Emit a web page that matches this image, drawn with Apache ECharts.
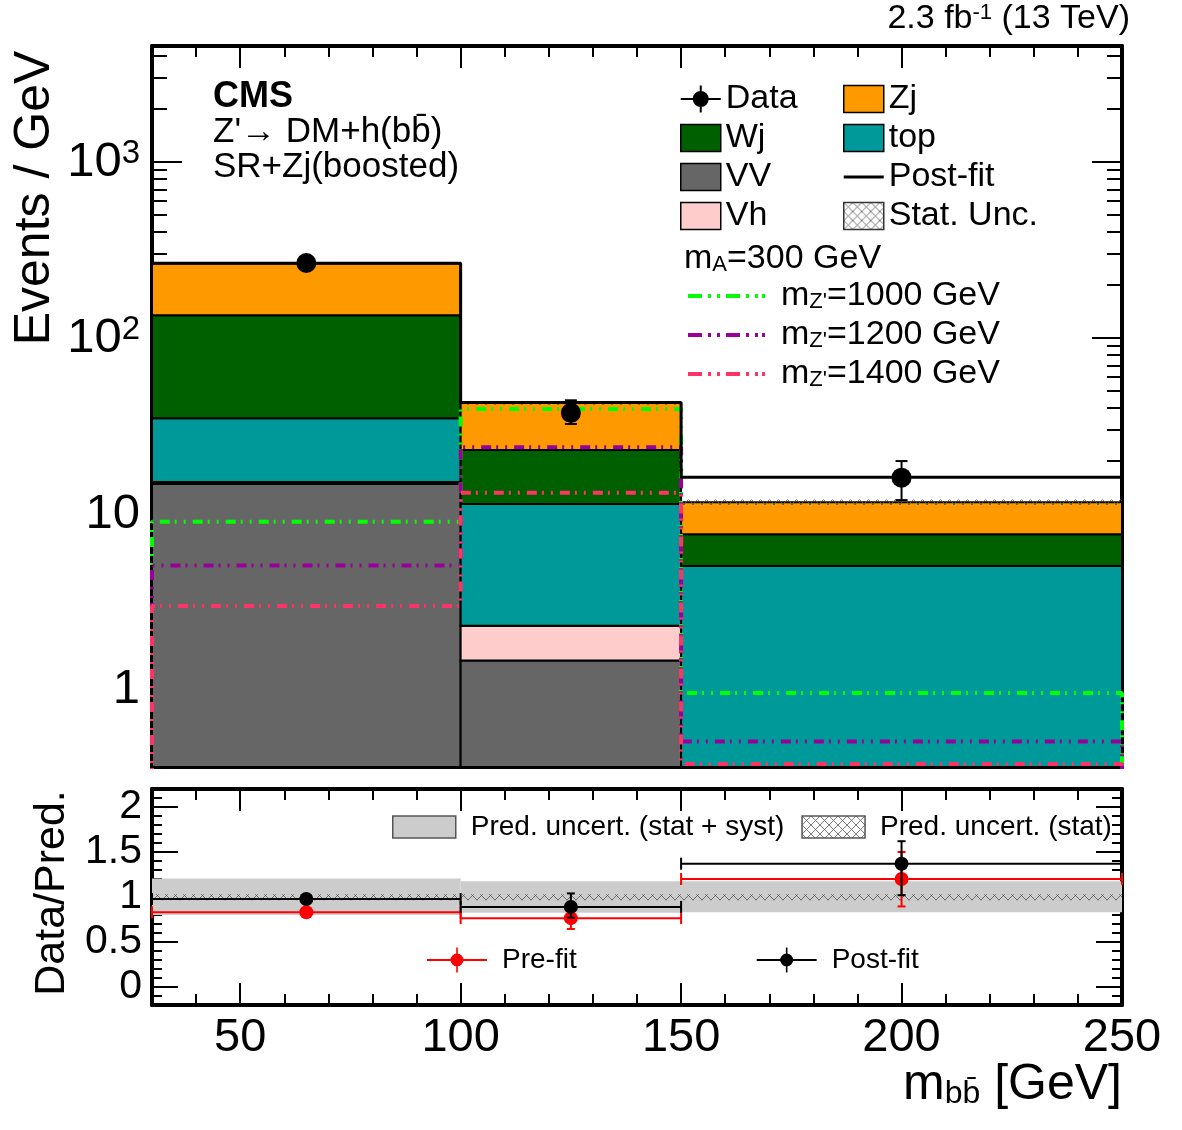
<!DOCTYPE html>
<html>
<head>
<meta charset="utf-8">
<title>m_bb SR+Zj boosted</title>
<script src="https://cdn.jsdelivr.net/npm/echarts@6/dist/echarts.min.js"></script>
<style>
  html, body { margin: 0; padding: 0; background: #fff; }
  #chart { width: 1182px; height: 1130px; }
</style>
</head>
<body>
<div id="chart"></div>
<script>
// bins of m_bb [GeV]
const binEdges = [30, 100, 150, 250];
const binCenters = [65, 125, 200];

// stacked backgrounds, events / GeV (bottom -> top)
const vvBkg = [14.8, 1.47, 0.2];
const vhBkg = [0.4, 0.85, 0.05];
const topBkg = [19.8, 9.08, 4.82];
const wjBkg = [100, 11.7, 2.6];
const zjBkg = [130, 19.7, 4.0];
const statUncRel = [0.012, 0.025, 0.035];
const postFit = [266, 43, 16.2];

// data
const dataVals = [267, 37.6, 16.1];
const dataLo = [250, 32.5, 12.0];
const dataHi = [285, 44.3, 20.0];

// signals, m_A = 300 GeV
const sigMz1000 = [9.05, 39.5, 0.96];
const sigMz1200 = [5.1, 24, 0.51];
const sigMz1400 = [3.0, 13.2, 0.38];

// ratio panel
const bandLo = [0.80, 0.825, 0.83];
const bandHi = [1.205, 1.175, 1.175];
const statLo = [0.965, 0.965, 0.965];
const statHi = [1.03, 1.03, 1.03];
const postRatio = [0.978, 0.89, 1.37];
const postRatioLo = [0.95, 0.77, 1.02];
const postRatioHi = [1.005, 1.04, 1.62];
const preRatio = [0.83, 0.765, 1.20];
const preRatioLo = [0.80, 0.645, 0.895];
const preRatioHi = [0.86, 0.885, 1.50];

// tick labels
const xLabels = [50, 100, 150, 200, 250];
const xMajor = [50, 100, 150, 200];
const yLogLabels = [1, 10, 100, 1000];
const ratioLabels = [0, 0.5, 1, 1.5, 2];

const FONT = 'Liberation Sans, Arial, Helvetica, DejaVu Sans, sans-serif';
const Y_MIN = 0.365, Y_MAX = 4570;

// log minor ticks 2..9 x decade
const yLogMinor = [];
[0.1, 1, 10, 100, 1000].forEach(d => {
  for (let k = 2; k <= 9; k++) {
    const v = k * d;
    if (v > Y_MIN && v < Y_MAX) yLogMinor.push(v);
  }
});

// hatch pattern for stat. uncertainties
const hatch = document.createElement('canvas');
hatch.width = 9; hatch.height = 9;
(function () {
  const c = hatch.getContext('2d');
  c.strokeStyle = '#555';
  c.lineWidth = 0.8;
  c.beginPath();
  c.moveTo(0, 0); c.lineTo(9, 9);
  c.moveTo(9, 0); c.lineTo(0, 9);
  c.stroke();
})();
const hatchFill = { image: hatch, repeat: 'repeat' };

var chart = echarts.init(document.getElementById('chart'));

function histRect(fill, stroke, lw, clampLow) {
  return function (params, api) {
    let lo = api.value(2), hi = api.value(3);
    if (clampLow != null) {
      if (hi <= clampLow) return null;
      lo = Math.max(lo, clampLow / 10);
    }
    const p0 = api.coord([api.value(0), hi]);
    const p1 = api.coord([api.value(1), lo]);
    const cs = params.coordSys;
    const shape = echarts.graphic.clipRectByRect(
      { x: p0[0], y: p0[1], width: p1[0] - p0[0], height: p1[1] - p0[1] },
      { x: cs.x, y: cs.y, width: cs.width, height: cs.height }
    );
    if (!shape) return null;
    return {
      type: 'rect', shape: shape,
      style: { fill: fill, stroke: stroke || null, lineWidth: lw || 0 }
    };
  };
}

function pointItem(color, r, xbar, capW) {
  return function (params, api) {
    const xc = api.value(0), y = api.value(1);
    const c = api.coord([xc, y]);
    const lo = api.coord([xc, api.value(2)]);
    const hi = api.coord([xc, api.value(3)]);
    const st = { stroke: color, lineWidth: 2 };
    const kids = [];
    if (xbar) {
      const a = api.coord([api.value(4), y]);
      const b = api.coord([api.value(5), y]);
      kids.push({ type: 'line', shape: { x1: a[0], y1: a[1], x2: b[0], y2: b[1] }, style: st });
      kids.push({ type: 'line', shape: { x1: a[0], y1: a[1] - 6, x2: a[0], y2: a[1] + 6 }, style: st });
      kids.push({ type: 'line', shape: { x1: b[0], y1: b[1] - 6, x2: b[0], y2: b[1] + 6 }, style: st });
    }
    kids.push({ type: 'line', shape: { x1: lo[0], y1: lo[1], x2: hi[0], y2: hi[1] }, style: st });
    kids.push({ type: 'line', shape: { x1: lo[0] - capW, y1: lo[1], x2: lo[0] + capW, y2: lo[1] }, style: st });
    kids.push({ type: 'line', shape: { x1: hi[0] - capW, y1: hi[1], x2: hi[0] + capW, y2: hi[1] }, style: st });
    kids.push({ type: 'circle', shape: { cx: c[0], cy: c[1], r: r }, style: { fill: color } });
    return { type: 'group', children: kids };
  };
}

function stepPoints(vals, floor) {
  const pts = [[binEdges[0], floor]];
  vals.forEach((v, i) => {
    pts.push([binEdges[i], v]);
    pts.push([binEdges[i + 1], v]);
  });
  if (floor != null) pts.push([binEdges[binEdges.length - 1], floor]);
  else pts.shift();
  return pts;
}

// stacked background rects
const stackDefs = [
  { name: 'VV', vals: vvBkg, color: '#666666' },
  { name: 'Vh', vals: vhBkg, color: '#ffcccc' },
  { name: 'top', vals: topBkg, color: '#009999' },
  { name: 'Wj', vals: wjBkg, color: '#006000' },
  { name: 'Zj', vals: zjBkg, color: '#ff9900' }
];
const cum = [0, 0, 0];
const stackSeries = stackDefs.map(d => {
  const rows = d.vals.map((v, i) => {
    const row = [binEdges[i], binEdges[i + 1], cum[i], cum[i] + v];
    cum[i] += v;
    return row;
  });
  return {
    name: d.name, type: 'custom', xAxisIndex: 0, yAxisIndex: 0,
    renderItem: histRect(d.color, '#000', 2, Y_MIN),
    itemStyle: { color: d.color },
    encode: { x: [0, 1], y: [2, 3] },
    data: rows, z: 2
  };
});

const statRows = cum.map((t, i) => [binEdges[i], binEdges[i + 1], t * (1 - statUncRel[i]), t * (1 + statUncRel[i])]);

const dash = [10, 5, 2, 7, 2, 7];
function sigSeries(name, vals, color) {
  return {
    name: name, type: 'line', xAxisIndex: 0, yAxisIndex: 0,
    data: stepPoints(vals, Y_MIN / 10), symbol: 'none', z: 4,
    itemStyle: { color: color },
    lineStyle: { color: color, width: 4, type: dash }
  };
}

const sigNames = { 'mZ1000': '1000', 'mZ1200': '1200', 'mZ1400': '1400' };

function xAxisDef(grid, pos, major, labels) {
  return {
    type: 'value', gridIndex: grid, position: pos, min: 30, max: 250, interval: 10,
    axisLine: { show: !major, onZero: false, lineStyle: { color: '#000', width: 4 } },
    axisTick: major
      ? { inside: true, length: 22, customValues: xMajor, lineStyle: { color: '#000', width: 2 } }
      : { inside: true, length: 11, lineStyle: { color: '#000', width: 2 } },
    axisLabel: labels
      ? { customValues: xLabels, fontSize: 47, color: '#000', fontFamily: FONT, margin: 10 }
      : { show: false },
    splitLine: { show: false }
  };
}

function logAxisDef(pos, major, labels) {
  return {
    type: 'log', logBase: 10, gridIndex: 0, position: pos, min: Y_MIN, max: Y_MAX,
    axisLine: { show: !major, onZero: false, lineStyle: { color: '#000', width: 4 } },
    axisTick: { inside: true, length: major ? 30 : 15, customValues: major ? yLogLabels : yLogMinor,
      lineStyle: { color: '#000', width: 2 } },
    axisLabel: labels ? {
      customValues: yLogLabels, fontSize: 49, color: '#000', fontFamily: FONT, margin: 12,
      formatter: v => {
        const e = Math.round(Math.log10(v));
        if (e === 0) return '1';
        if (e === 1) return '10';
        return '10{sup|' + e + '}';
      },
      rich: { sup: { fontSize: 33, verticalAlign: 'top', fontFamily: FONT, color: '#000' } }
    } : { show: false },
    splitLine: { show: false }
  };
}

function ratioAxisDef(pos, major, labels) {
  return {
    type: 'value', gridIndex: 1, position: pos, min: -0.2, max: 2.2, interval: 0.1,
    axisLine: { show: !major, onZero: false, lineStyle: { color: '#000', width: 4 } },
    axisTick: major
      ? { inside: true, length: 26, customValues: ratioLabels, lineStyle: { color: '#000', width: 2 } }
      : { inside: true, length: 10, lineStyle: { color: '#000', width: 2 } },
    axisLabel: labels
      ? { customValues: ratioLabels, fontSize: 41, color: '#000', fontFamily: FONT, margin: 10,
          formatter: v => String(v) }
      : { show: false },
    splitLine: { show: false }
  };
}

const dataIcon = 'path://M0,12.5h40v2h-40zM19,0h2v27h-2zM12,13.5a8 8 0 1 1 16 0a8 8 0 1 1 -16 0z';
const ratioIcon = 'path://M0,11.5h60v2h-60zM29.2,0h1.6v25h-1.6zM23.5,12.5a6.5 6.5 0 1 1 13 0a6.5 6.5 0 1 1 -13 0z';
const lineIcon = 'path://M0,0h0.01v0.01h-0.01zM0,12h40v3h-40zM39.99,26.99h0.01v0.01h-0.01z';
const sigIcon = 'path://M0,0h14v4h-14zM20,0h3v4h-3zM29,0h3v4h-3zM38,0h14v4h-14zM58,0h3v4h-3zM67,0h3v4h-3zM74,0h3v4h-3z';

const legText = { fontSize: 34, color: '#000', fontFamily: FONT };
const ratioLegText = { fontSize: 28, color: '#000', fontFamily: FONT, padding: [0, 0, 0, 10] };
const boxStyle = c => ({ color: c, borderColor: '#000', borderWidth: 1.5 });

const option = {
  animation: false,
  backgroundColor: '#fff',
  grid: [
    { left: 152, top: 46, width: 970, height: 721 },
    { left: 152, top: 789, width: 970, height: 216 }
  ],
  xAxis: [
    xAxisDef(0, 'bottom', false, false),
    xAxisDef(0, 'top', false, false),
    xAxisDef(0, 'bottom', true, false),
    xAxisDef(0, 'top', true, false),
    xAxisDef(1, 'bottom', false, true),
    xAxisDef(1, 'top', false, false),
    xAxisDef(1, 'bottom', true, false),
    xAxisDef(1, 'top', true, false)
  ],
  yAxis: [
    logAxisDef('left', false, true),
    logAxisDef('right', false, false),
    logAxisDef('left', true, false),
    logAxisDef('right', true, false),
    ratioAxisDef('left', false, true),
    ratioAxisDef('right', false, false),
    ratioAxisDef('left', true, false),
    ratioAxisDef('right', true, false)
  ],
  legend: [
    {
      left: 680, top: 82, orient: 'vertical', itemWidth: 40, itemHeight: 27, itemGap: 5,
      padding: 0, selectedMode: false, textStyle: legText,
      data: [
        { name: 'Data', icon: dataIcon, itemStyle: { color: '#000', borderWidth: 0 } },
        { name: 'Wj', icon: 'rect', itemStyle: boxStyle('#006000') },
        { name: 'VV', icon: 'rect', itemStyle: boxStyle('#666666') },
        { name: 'Vh', icon: 'rect', itemStyle: boxStyle('#ffcccc') }
      ]
    },
    {
      left: 843, top: 82, orient: 'vertical', itemWidth: 40, itemHeight: 27, itemGap: 5,
      padding: 0, selectedMode: false, textStyle: legText,
      data: [
        { name: 'Zj', icon: 'rect', itemStyle: boxStyle('#ff9900') },
        { name: 'top', icon: 'rect', itemStyle: boxStyle('#009999') },
        { name: 'Post-fit', icon: lineIcon, itemStyle: { color: '#000', borderWidth: 0 } },
        { name: 'Stat. Unc.', icon: 'rect', itemStyle: { color: hatchFill, borderColor: '#333', borderWidth: 1.5 } }
      ]
    },
    {
      left: 688, top: 279, orient: 'vertical', itemWidth: 77, itemHeight: 4, itemGap: 5,
      padding: 0, selectedMode: false,
      textStyle: Object.assign({ padding: [0, 0, 0, 11], rich: {
        b: { fontSize: 34, fontFamily: FONT, color: '#000' },
        s: { fontSize: 22, fontFamily: FONT, color: '#000', verticalAlign: 'bottom' }
      } }, legText),
      formatter: n => '{b|m}{s|Z\'}{b|=' + sigNames[n] + ' GeV}',
      data: [
        { name: 'mZ1000', icon: sigIcon, itemStyle: { color: '#00ff00', borderWidth: 0 } },
        { name: 'mZ1200', icon: sigIcon, itemStyle: { color: '#990099', borderWidth: 0 } },
        { name: 'mZ1400', icon: sigIcon, itemStyle: { color: '#ff3366', borderWidth: 0 } }
      ]
    },
    {
      left: 392, top: 813, orient: 'horizontal', itemWidth: 63, itemHeight: 22, itemGap: 17,
      padding: 0, selectedMode: false, textStyle: ratioLegText,
      data: [
        { name: 'Pred. uncert. (stat + syst)', icon: 'rect', itemStyle: { color: '#cccccc', borderColor: '#555', borderWidth: 1.5 } },
        { name: 'Pred. uncert. (stat)', icon: 'rect', itemStyle: { color: hatchFill, borderColor: '#555', borderWidth: 1.5 } }
      ]
    },
    {
      left: 427, top: 946, orient: 'horizontal', itemWidth: 60, itemHeight: 25, itemGap: 180,
      padding: 0, selectedMode: false, textStyle: ratioLegText,
      data: [
        { name: 'Pre-fit', icon: ratioIcon, itemStyle: { color: '#ff0000', borderWidth: 0 } },
        { name: 'Post-fit', icon: ratioIcon, itemStyle: { color: '#000', borderWidth: 0 } }
      ]
    }
  ],
  graphic: [
    { type: 'text', right: 52, top: 2, style: {
        text: '{a|2.3 fb}{s|-1}{a| (13 TeV)}', fill: '#000',
        rich: { a: { fontSize: 34, fontFamily: FONT }, s: { fontSize: 22, fontFamily: FONT, verticalAlign: 'top' } } } },
    { type: 'text', x: 213, y: 79, style: { text: 'CMS', font: 'bold 36px ' + FONT, fill: '#000' } },
    { type: 'text', x: 213, y: 115, style: { text: 'Z\'\u2192 DM+h(bb\u0304)', font: '35px ' + FONT, fill: '#000' } },
    { type: 'text', x: 213, y: 150, style: { text: 'SR+Zj(boosted)', font: '35px ' + FONT, fill: '#000' } },
    { type: 'text', x: 684, y: 242, style: {
        text: '{a|m}{s|A}{a|=300 GeV}', fill: '#000',
        rich: { a: { fontSize: 34, fontFamily: FONT }, s: { fontSize: 22, fontFamily: FONT, verticalAlign: 'bottom' } } } },
    { type: 'text', x: 35, y: 198, rotation: Math.PI / 2, style: {
        text: 'Events / GeV', font: '50px ' + FONT, fill: '#000', align: 'center', verticalAlign: 'middle' } },
    { type: 'text', x: 52, y: 893, rotation: Math.PI / 2, style: {
        text: 'Data/Pred.', font: '43px ' + FONT, fill: '#000', align: 'center', verticalAlign: 'middle' } },
    { type: 'text', right: 60, top: 1060, style: {
        text: '{a|m}{s|bb\u0304}{a| [GeV]}', fill: '#000',
        rich: { a: { fontSize: 50, fontFamily: FONT }, s: { fontSize: 32, fontFamily: FONT, verticalAlign: 'bottom' } } } }
  ],
  series: stackSeries.concat([
    {
      name: 'Stat. Unc.', type: 'custom', xAxisIndex: 0, yAxisIndex: 0,
      renderItem: histRect(hatchFill, null, 0, Y_MIN),
      encode: { x: [0, 1], y: [2, 3] }, data: statRows, z: 3
    },
    sigSeries('mZ1000', sigMz1000, '#00ff00'),
    sigSeries('mZ1200', sigMz1200, '#990099'),
    sigSeries('mZ1400', sigMz1400, '#ff3366'),
    {
      name: 'Post-fit', type: 'line', xAxisIndex: 0, yAxisIndex: 0,
      data: stepPoints(postFit, null), symbol: 'none', z: 5,
      itemStyle: { color: '#000' }, lineStyle: { color: '#000', width: 3 }
    },
    {
      name: 'Data', type: 'custom', xAxisIndex: 0, yAxisIndex: 0,
      renderItem: pointItem('#000', 10, false, 6),
      encode: { x: 0, y: [1, 2, 3] }, z: 6,
      data: dataVals.map((v, i) => [binCenters[i], v, dataLo[i], dataHi[i]])
    },
    // ratio panel
    {
      name: 'Pred. uncert. (stat + syst)', type: 'custom', xAxisIndex: 4, yAxisIndex: 4,
      renderItem: histRect('#cccccc', null, 0, null),
      encode: { x: [0, 1], y: [2, 3] }, z: 2,
      data: bandLo.map((v, i) => [binEdges[i], binEdges[i + 1], v, bandHi[i]])
    },
    {
      name: 'Pred. uncert. (stat)', type: 'custom', xAxisIndex: 4, yAxisIndex: 4,
      renderItem: histRect(hatchFill, null, 0, null),
      encode: { x: [0, 1], y: [2, 3] }, z: 3,
      data: statLo.map((v, i) => [binEdges[i], binEdges[i + 1], v, statHi[i]])
    },
    {
      name: 'Pre-fit', type: 'custom', xAxisIndex: 4, yAxisIndex: 4,
      renderItem: pointItem('#ff0000', 7, true, 4),
      encode: { x: [0, 4, 5], y: [1, 2, 3] }, z: 4,
      data: preRatio.map((v, i) => [binCenters[i], v, preRatioLo[i], preRatioHi[i], binEdges[i], binEdges[i + 1]])
    },
    {
      name: 'Post-fit', type: 'custom', xAxisIndex: 4, yAxisIndex: 4,
      renderItem: pointItem('#000', 7, true, 4),
      encode: { x: [0, 4, 5], y: [1, 2, 3] }, z: 5,
      data: postRatio.map((v, i) => [binCenters[i], v, postRatioLo[i], postRatioHi[i], binEdges[i], binEdges[i + 1]])
    }
  ])
};

chart.setOption(option);
</script>
</body>
</html>
